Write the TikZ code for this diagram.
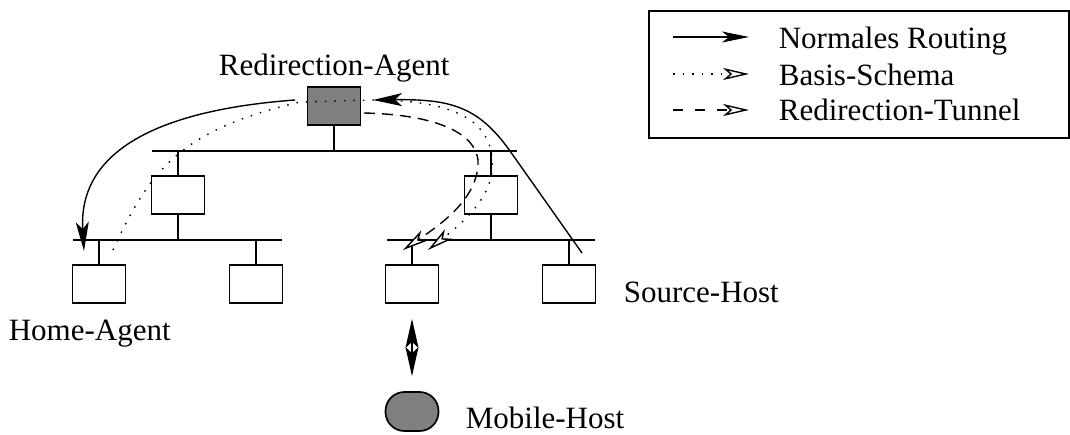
\documentclass[tikz,border=0pt]{standalone}
\usepackage{fontspec}
\setmainfont{Liberation Serif}
\usetikzlibrary{arrows.meta}
\definecolor{dg}{RGB}{127,127,127}
\begin{document}
\begin{tikzpicture}[x=1pt,y=-1pt,line width=1.7pt,
  box/.style={draw,fill=white,minimum width=53pt,minimum height=38pt,inner sep=0pt},
  lbl/.style={anchor=base west,inner sep=0pt,font=\fontsize{31}{36}\selectfont},
  solidarr/.style={-{Stealth[length=29pt,width=13pt,inset=7pt]},line width=1.4pt},
  legsolid/.style={-{Stealth[length=27pt,width=11pt,inset=7pt]},line width=1.4pt},
  openarr/.style={-{Stealth[length=26pt,width=12pt,inset=7pt,fill=white]},line width=1.4pt},
  dotline/.style={dash pattern=on 1.5pt off 8pt},
  dashline/.style={dash pattern=on 11pt off 7pt}]
\useasboundingbox (0,0) rectangle (1070,434);

% legend
\node[draw,minimum width=420pt,minimum height=127pt,inner sep=0pt,anchor=north west] (legend) at (648,10) {};
\coordinate (l1a) at (673,37); \coordinate (l1b) at (749,37);
\coordinate (l2a) at (673,74); \coordinate (l2b) at (749,74);
\coordinate (l3a) at (673,110); \coordinate (l3b) at (749,110);
\draw[legsolid] (l1a) -- (l1b);
\draw[openarr,dotline] (l2a) -- (l2b);
\draw[openarr,dash pattern=on 10pt off 12pt] (l3a) -- (l3b);
\node[lbl] (t1) at (778,48) {Normales Routing};
\node[lbl] (t2) at (778,85) {Basis-Schema};
\node[lbl] (t3) at (778,120) {Redirection-Tunnel};

% buses
\coordinate (tb1) at (152,151); \coordinate (tb2) at (517,151);
\coordinate (lb1) at (73,240); \coordinate (lb2) at (282,240);
\coordinate (rb1) at (387,240); \coordinate (rb2) at (595,240);
\draw (tb1) -- (tb2);
\draw (lb1) -- (lb2);
\draw (rb1) -- (rb2);

% nodes
\node[box,fill=dg] (ra) at (334,106) {};
\node[box] (lr) at (178,195) {};
\node[box] (rr) at (491,195) {};
\node[box] (h1) at (99,284) {};
\node[box] (h2) at (256,284) {};
\node[box] (h3) at (412,284) {};
\node[box] (h4) at (569,284) {};
\node[draw,fill=dg,rounded corners=19pt,minimum width=53pt,minimum height=39pt,inner sep=0pt] (mh) at (412,411.5) {};

% stems
\draw (ra.south) -- (ra.south |- tb1);
\draw (lr.north |- tb1) -- (lr.north);
\draw (lr.south) -- (lr.south |- lb1);
\draw (rr.north |- tb1) -- (rr.north);
\draw (rr.south) -- (rr.south |- rb1);
\draw (h1.north |- lb1) -- (h1.north);
\draw (h2.north |- lb1) -- (h2.north);
\draw (h3.north |- rb1) -- (h3.north);
\draw (h4.north |- rb1) -- (h4.north);

% mobile link
\draw[{Stealth[length=29pt,width=13pt,inset=6pt]}-{Stealth[length=29pt,width=13pt,inset=6pt]},shorten <=15pt,shorten >=15pt] (h3.south) -- (mh.north);

% labels
\node[lbl] (lra) at (218,75) {Redirection-Agent};
\node[lbl] (lha) at (8,340) {Home-Agent};
\node[lbl] (lsh) at (623,302) {Source-Host};
\node[lbl] (lmh) at (465,428) {Mobile-Host};

% normal routing
\coordinate (n1s) at (295,100); \coordinate (n1e) at (84,251);
\draw[solidarr] (n1s) .. controls (160,110) and (78,150) .. (n1e);
\coordinate (n2s) at (582,253); \coordinate (n2m) at (510,151); \coordinate (n2e) at (373,100);
\draw[solidarr] (n2s) -- (n2m) .. controls (478,106) and (450,99) .. (n2e);

% basis schema (dotted)
\coordinate (b0) at (113,250); \coordinate (b1) at (300,102); \coordinate (b2) at (373,100);
\coordinate (b3) at (492,170); \coordinate (b4) at (428,250);
\draw[openarr,dotline] (b0) .. controls (150,170) and (180,130) .. (b1) -- (b2)
  .. controls (470,100) and (495,130) .. (b3) .. controls (490,200) and (460,225) .. (b4);

% redirection tunnel (dashed)
\coordinate (d0) at (364,113); \coordinate (d1) at (478,165); \coordinate (d2) at (403,250);
\draw[openarr,dashline] (d0) .. controls (450,115) and (480,140) .. (d1) .. controls (476,200) and (440,225) .. (d2);
\end{tikzpicture}
\end{document}
